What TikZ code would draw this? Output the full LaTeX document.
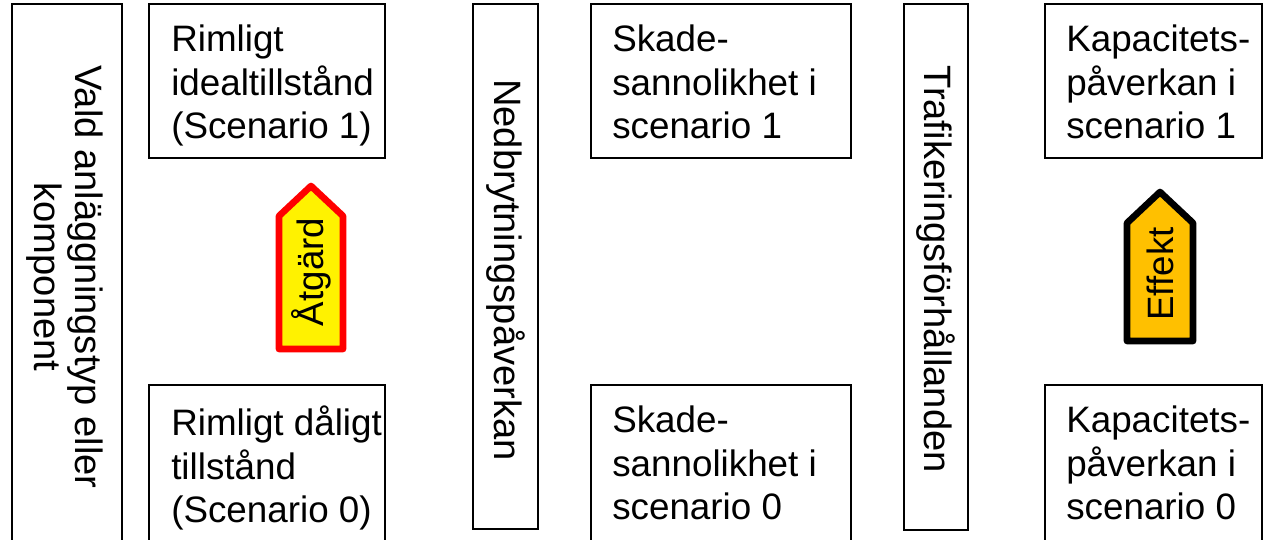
\documentclass[tikz,border=0pt]{standalone}
\usepackage{fontspec}
\setmainfont{Liberation Sans}
\begin{document}
\begin{tikzpicture}[x=0.75pt,y=-0.75pt,
  box/.style={draw=black,line width=1.1pt,fill=white},
  txt/.style={anchor=north west,inner sep=0pt,align=left,font=\fontsize{27.6}{32.4}\selectfont},
  vtxt/.style={inner sep=0pt,align=center,font=\fontsize{28.6}{30.5}\selectfont},
  stxt/.style={inner sep=0pt,align=center,font=\fontsize{27.5}{30}\selectfont},
  sign/.style={line width=5pt,line join=round}]
\clip (0,0) rectangle (1263,539);
\fill[white] (0,0) rectangle (1263,539);
% columns
\draw[box] (12,4) rectangle (122,552);
\node[vtxt,rotate=-90] (vald) at (65,277) {Vald anläggningstyp eller\\komponent};
\draw[box] (149,4) rectangle (385,158);
\node[txt] (r1) at (171,25) {Rimligt\\idealtillstånd\\(Scenario 1)};
\draw[box] (149,385) rectangle (385,552);
\node[txt] (r0) at (171,406) {Rimligt dåligt\\tillstånd\\(Scenario 0)};
\draw[box] (473,4) rectangle (538,529);
\node[vtxt,rotate=-90] (ned) at (506,270) {Nedbrytningspåverkan};
\draw[box] (591,4) rectangle (851,158);
\node[txt] (s1) at (612,25) {Skade-\\sannolikhet i\\scenario 1};
\draw[box] (591,385) rectangle (851,552);
\node[txt] (s0) at (612,406) {Skade-\\sannolikhet i\\scenario 0};
\draw[box] (904,4) rectangle (968,530);
\node[vtxt,rotate=-90] (traf) at (936,269) {Trafikeringsförhållanden};
\draw[box] (1045,4) rectangle (1262,158);
\node[txt] (k1) at (1066,25) {Kapacitets-\\påverkan i\\scenario 1};
\draw[box] (1045,385) rectangle (1262,552);
\node[txt] (k0) at (1066,406) {Kapacitets-\\påverkan i\\scenario 0};
% signs
\draw[sign,draw=red,fill=yellow] (279,216) -- (311,186) -- (343,216) -- (343,349) -- (279,349) -- cycle;
\node[stxt,rotate=90] (atg) at (311,272) {Åtgärd};
\draw[sign,draw=black,fill={rgb,255:red,255;green,192;blue,0}] (1127,223) -- (1160,192) -- (1193,223) -- (1193,341) -- (1127,341) -- cycle;
\node[stxt,rotate=90] (eff) at (1160,274) {Effekt};
\end{tikzpicture}
\end{document}
